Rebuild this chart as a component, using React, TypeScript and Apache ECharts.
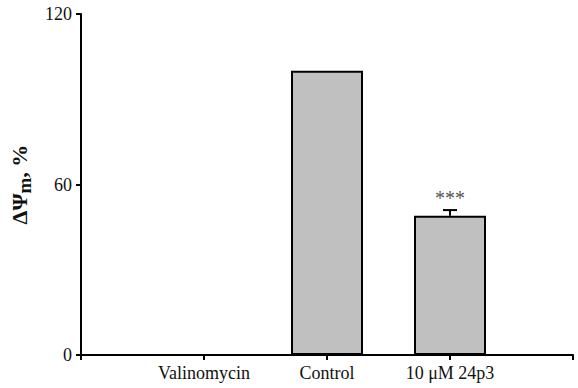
import React, { useEffect, useRef } from "react";
import * as echarts from "echarts";

const categories = ["", "Valinomycin", "Control", "10 μM 24p3", ""];
const values: (number | null)[] = [null, 0, 100, 49, null];
const errorUpper: (number | null)[] = [null, null, null, 51, null];
const significance: (string | null)[] = [null, null, null, "***", null];
const yTicks = { min: 0, max: 120, interval: 60 };

export default function App() {
  const ref = useRef<HTMLDivElement>(null);
  useEffect(() => {
    if (!ref.current) return;
    const chart = echarts.init(ref.current, null, { renderer: "svg" });
    const font = "'Liberation Serif', 'Times New Roman', 'DejaVu Serif', serif";
    const errData = categories.map((c, i) => [i, values[i], errorUpper[i], significance[i]]).filter((d) => d[2] != null);
    chart.setOption({
      animation: false,
      backgroundColor: "#ffffff",
      grid: { left: 81, right: 5, top: 14, bottom: 33, containLabel: false },
      xAxis: {
        type: "category",
        data: categories,
        boundaryGap: false,
        axisLine: { lineStyle: { color: "#000", width: 2 } },
        axisTick: { show: true, length: 5, lineStyle: { color: "#000", width: 2 } },
        axisLabel: { color: "#111", fontFamily: font, fontSize: 18, margin: 9, interval: 0 },
        splitLine: { show: false },
        z: 5,
      },
      yAxis: {
        type: "value",
        min: yTicks.min,
        max: yTicks.max,
        interval: yTicks.interval,
        axisLine: { show: true, lineStyle: { color: "#000", width: 2 } },
        axisTick: { show: true, length: 5, lineStyle: { color: "#000", width: 2 } },
        axisLabel: { color: "#111", fontFamily: font, fontSize: 18, margin: 9 },
        splitLine: { show: false },
        name: "{a|ΔΨ}{s|m}{a|, %}",
        nameLocation: "middle",
        nameRotate: 90,
        nameGap: 39,
        nameTextStyle: {
          rich: {
            a: { fontFamily: font, fontSize: 22, fontWeight: "bold", color: "#111" },
            s: { fontFamily: font, fontSize: 19, fontWeight: "bold", color: "#111", verticalAlign: "bottom", padding: [10, 0, 0, 0] },
          },
        },
        z: 5,
      },
      series: [
        {
          type: "bar",
          data: values,
          barWidth: 72,
          itemStyle: { color: "#c0c0c0", borderColor: "#000", borderWidth: 2 },
          z: 2,
        },
        {
          type: "custom",
          data: errData,
          z: 3,
          renderItem: (params: any, api: any) => {
            const x = api.value(0);
            const top = api.coord([x, api.value(2)]);
            const base = api.coord([x, api.value(1)]);
            const label = api.value(3);
            const half = 7;
            return {
              type: "group",
              children: [
                { type: "line", shape: { x1: top[0], y1: base[1], x2: top[0], y2: top[1] }, style: { stroke: "#000", lineWidth: 2 } },
                { type: "line", shape: { x1: top[0] - half, y1: top[1], x2: top[0] + half, y2: top[1] }, style: { stroke: "#000", lineWidth: 2 } },
                {
                  type: "text",
                  x: top[0],
                  y: top[1] - 2,
                  style: { text: label, fill: "#555", fontFamily: font, fontSize: 20, align: "center", verticalAlign: "bottom" },
                },
              ],
            };
          },
        },
      ],
    });
    return () => chart.dispose();
  }, []);
  return <div ref={ref} style={{ position: "fixed", left: 0, top: 0, width: 578, height: 388 }} />;
}
